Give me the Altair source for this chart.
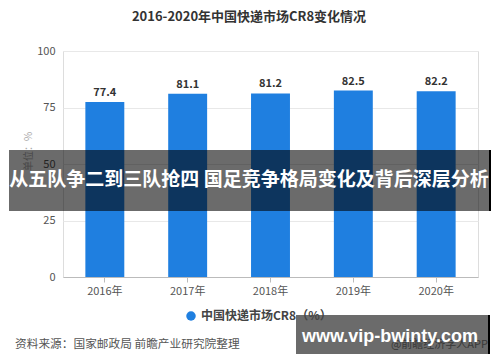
import altair as alt
import pandas as pd

years = ["2016年", "2017年", "2018年", "2019年", "2020年"]
values = [77.4, 81.1, 81.2, 82.5, 82.2]
series_name = "中国快递市场CR8（%）"
title_text = "2016-2020年中国快递市场CR8变化情况"
banner_text = "从五队争二到三队抢四 国足竞争格局变化及背后深层分析"
source_text = "资料来源：国家邮政局 前瞻产业研究院整理"
brand_text = "@前瞻经济学人APP"
site_text = "www.vip-bwinty.com"

df = pd.DataFrame({"year": years, "value": values, "series": [series_name] * len(years)})

FONT = "Noto Sans CJK SC"
BLUE = "#1f7fe0"

base = alt.Chart(df)

x_enc = alt.X("year:N", sort=years,
              scale=alt.Scale(paddingInner=0.53, paddingOuter=0.27),
              axis=alt.Axis(title=None, labelAngle=0, labelFontSize=11, labelColor="#555",
                            labelFont=FONT, domainColor="#bbb", tickColor="#bbb", tickSize=5,
                            labelPadding=3))
y_enc = alt.Y("value:Q", scale=alt.Scale(domain=[0, 100]),
              axis=alt.Axis(values=[0, 25, 50, 75, 100], title="单位：%", titleFontSize=10,
                            titleColor="#aaa", titleFont=FONT, titleFontWeight="normal",
                            titleX=-30, titleY=100, labelFontSize=11, labelColor="#555",
                            labelFont=FONT, domain=False, ticks=False, gridColor="#e8e8e8",
                            labelPadding=8))

bars = base.mark_bar(color=BLUE).encode(
    x=x_enc, y=y_enc,
    color=alt.Color("series:N", scale=alt.Scale(range=[BLUE]),
                    legend=alt.Legend(title=None, orient="none", legendX=122, legendY=259,
                                      symbolType="circle", symbolSize=90, labelFontSize=12,
                                      labelFont=FONT, labelFontWeight="bold", labelColor="#444",
                                      symbolStrokeWidth=0)))

labels = base.mark_text(dy=-9, fontSize=11, fontWeight="bold", color="#333", font=FONT).encode(
    x=alt.X("year:N", sort=years), y="value:Q", text=alt.Text("value:Q", format=".1f"))

title = alt.Chart(pd.DataFrame({"t": [title_text]})).mark_text(
    fontSize=13, fontWeight="bold", color="#333", font=FONT).encode(
    x=alt.value(186), y=alt.value(-34), text="t:N")

banner = alt.Chart(pd.DataFrame({"a": [1]})).mark_rect(color="black", opacity=0.58).encode(
    x=alt.value(-54), x2=alt.value(426), y=alt.value(99), y2=alt.value(160))
banner_edge = alt.Chart(pd.DataFrame({"a": [1]})).mark_rect(color="black").encode(
    x=alt.value(426), x2=alt.value(428), y=alt.value(99), y2=alt.value(160))
banner_label = alt.Chart(pd.DataFrame({"t": [banner_text]})).mark_text(
    fontSize=19, fontWeight="bold", color="white", font=FONT).encode(
    x=alt.value(186), y=alt.value(129), text="t:N")

source = alt.Chart(pd.DataFrame({"t": [source_text]})).mark_text(
    fontSize=11.7, color="#555", font=FONT, align="left").encode(
    x=alt.value(-48), y=alt.value(293), text="t:N")

brand = alt.Chart(pd.DataFrame({"t": [brand_text]})).mark_text(
    fontSize=11, color="#888", font=FONT, align="right").encode(
    x=alt.value(425), y=alt.value(294), text="t:N")

site_box = alt.Chart(pd.DataFrame({"a": [1]})).mark_rect(color="black", opacity=0.58).encode(
    x=alt.value(233), x2=alt.value(425), y=alt.value(264), y2=alt.value(303))
site_edge = alt.Chart(pd.DataFrame({"a": [1]})).mark_rect(color="black").encode(
    x=alt.value(425), x2=alt.value(427), y=alt.value(264), y2=alt.value(303))
site_label = alt.Chart(pd.DataFrame({"t": [site_text]})).mark_text(
    fontSize=18, fontWeight="bold", color="white", font="Liberation Sans").encode(
    x=alt.value(327), y=alt.value(286), text="t:N")

chart = alt.layer(
    bars, labels, title, banner, banner_edge, banner_label, source, brand,
    site_box, site_edge, site_label
).properties(
    width=415, height=226,
    autosize=alt.AutoSizeParams(type="none"),
    padding={"left": 55, "top": 43, "right": 14, "bottom": 77},
).configure_view(stroke=None).configure(background="white")

chart.save("out.html", embed_options={"renderer": "svg", "actions": False})
